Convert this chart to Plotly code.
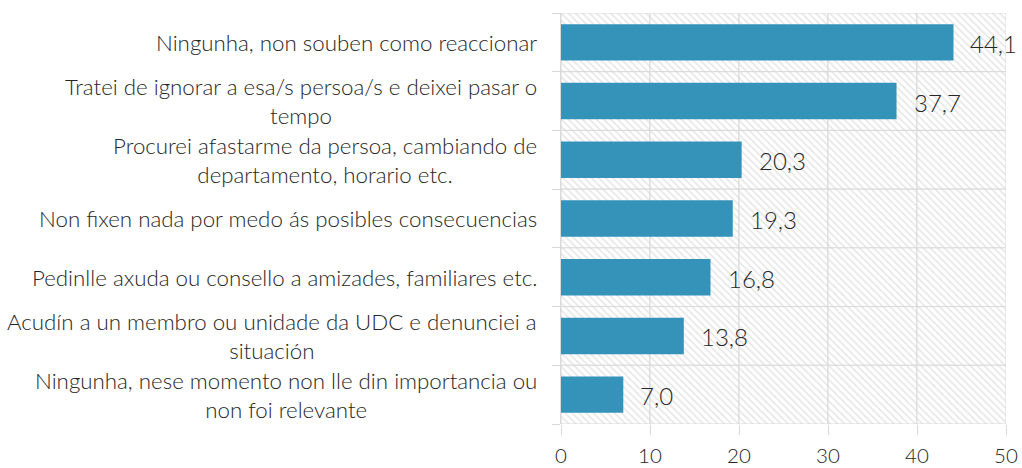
import plotly.graph_objects as go

categories = [
    "Ningunha, non souben como reaccionar",
    "Tratei de ignorar a esa/s persoa/s e deixei pasar o<br>tempo",
    "Procurei afastarme da persoa, cambiando de<br>departamento, horario etc.",
    "Non fixen nada por medo ás posibles consecuencias",
    "Pedinlle axuda ou consello a amizades, familiares etc.",
    "Acudín a un membro ou unidade da UDC e denunciei a<br>situación",
    "Ningunha, nese momento non lle din importancia ou<br>non foi relevante",
]
values = [44.1, 37.7, 20.3, 19.3, 16.8, 13.8, 7.0]
x_ticks = [0, 10, 20, 30, 40, 50]

keys = [f"c{i}" for i in range(len(categories))]
FONT = "Lato"
TEXT = "#262626"
GRID = "#d9d9d9"

fig = go.Figure()

# hatched backdrop cells, one per category and decade; their outlines form the grid
n_seg = len(x_ticks) - 1
fig.add_trace(go.Bar(
    y=keys * n_seg,
    x=[x_ticks[j + 1] - x_ticks[j] for j in range(n_seg) for _ in keys],
    base=[x_ticks[j] for j in range(n_seg) for _ in keys],
    orientation="h",
    width=1,
    marker=dict(
        color="white",
        line=dict(color=GRID, width=1),
        pattern=dict(shape="\\", fgcolor="#cccccc", bgcolor="white", size=5, solidity=0.3),
    ),
    hoverinfo="skip",
    showlegend=False,
))

fig.add_trace(go.Bar(
    y=keys,
    x=values,
    orientation="h",
    width=0.62,
    marker=dict(color="#3593ba", line=dict(width=0)),
    showlegend=False,
))

annotations = []
for k, v in zip(keys, values):
    annotations.append(dict(
        x=v, y=k, xref="x", yref="y", text=f"{v:.1f}".replace(".", ","),
        showarrow=False, xanchor="left", xshift=15, yshift=-1,
        font=dict(family=FONT, size=24, color=TEXT, weight=300),
    ))
for k, c in zip(keys, categories):
    annotations.append(dict(
        x=0, y=k, xref="paper", yref="y", text=c, showarrow=False,
        xanchor="right", align="center", xshift=-22,
        font=dict(family=FONT, size=22.3, color=TEXT, weight=300),
    ))

fig.update_layout(
    width=1022, height=468,
    margin=dict(l=561, r=16, t=13, b=44),
    plot_bgcolor="white", paper_bgcolor="white",
    barmode="overlay",
    annotations=annotations,
    xaxis=dict(
        range=[0, 50], tickvals=x_ticks, ticks="outside", ticklen=10,
        tickcolor=GRID, showgrid=False, zeroline=False, showline=False,
        automargin=False, ticklabelstandoff=3,
        tickfont=dict(family=FONT, size=20.5, color=TEXT, weight=300),
    ),
    yaxis=dict(
        type="category", categoryorder="array", categoryarray=keys[::-1],
        tickson="boundaries", ticks="outside", ticklen=8, tickcolor=GRID,
        showticklabels=False, showgrid=False, showline=True, linecolor=GRID,
        automargin=False, range=[-0.5, len(keys) - 0.5],
    ),
)

fig.write_html("out.html")
